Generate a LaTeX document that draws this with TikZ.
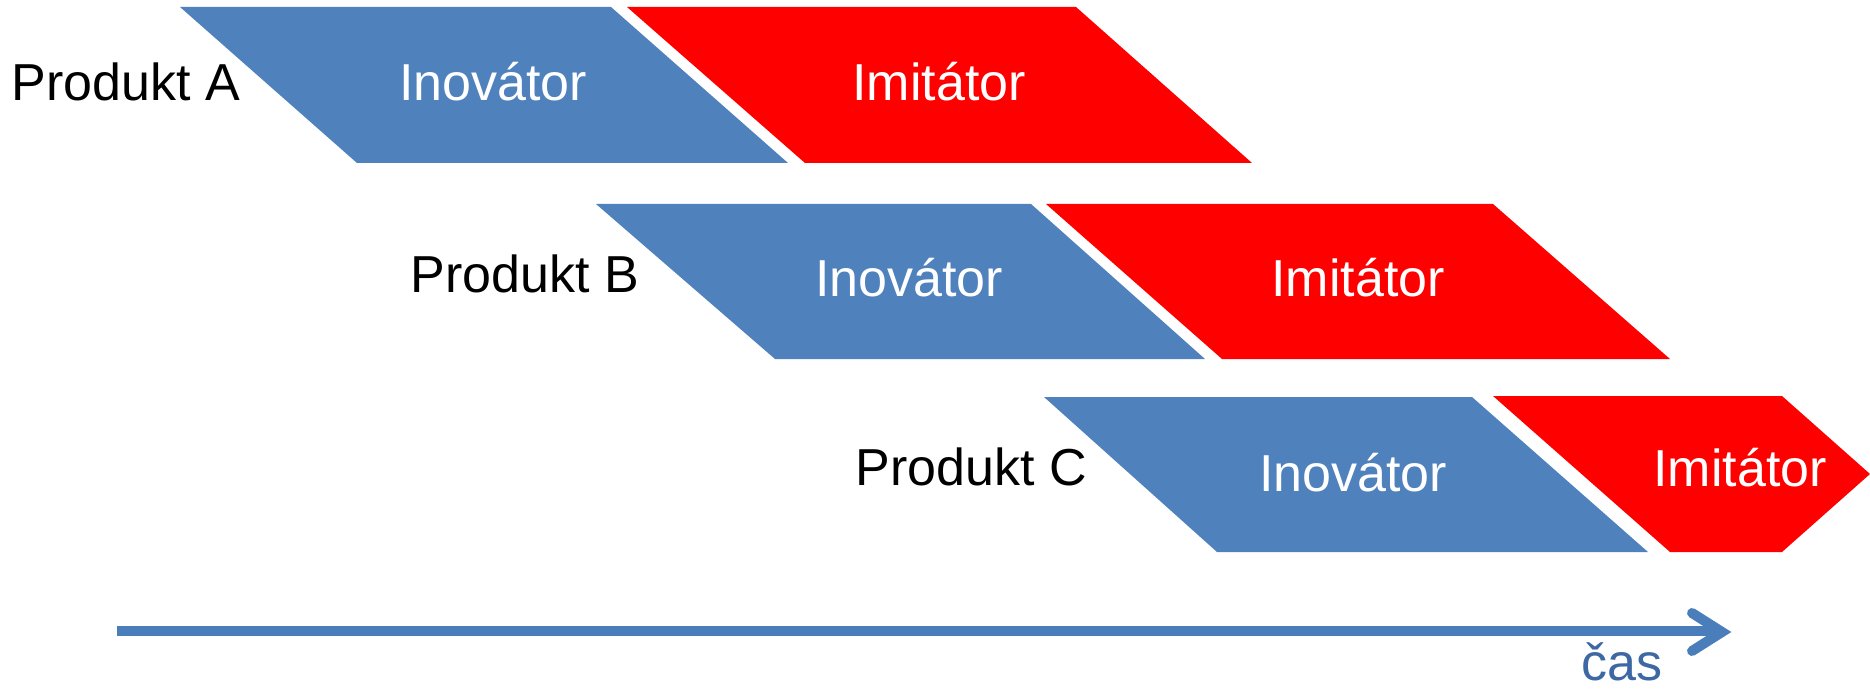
\documentclass[tikz,border=0pt]{standalone}
\usepackage{fontspec}
\setmainfont{Liberation Sans}
\definecolor{innoblue}{HTML}{4F81BD}
\definecolor{imitred}{HTML}{FF0000}
\definecolor{axisblue}{HTML}{4A7EBB}
\definecolor{timeblue}{HTML}{3E68A3}
\tikzset{
  innoshape/.style={fill=innoblue},
  imitshape/.style={fill=imitred},
  lbl/.style={anchor=base, inner sep=0pt, font=\fontsize{52}{60}\selectfont},
  prodlbl/.style={lbl, text=black},
  boxlbl/.style={lbl, text=white},
  axisline/.style={draw=axisblue, line width=10pt},
  axishead/.style={draw=axisblue, line width=10pt, line cap=round, line join=miter}
}
\begin{document}
\begin{tikzpicture}[x=1pt, y=-1pt]
\useasboundingbox (0,0) rectangle (1870,692);
% Row A
\fill[innoshape] (180,7) -- (611,7) -- (788,163) -- (357,163) -- cycle;
\fill[imitshape] (627,7) -- (1076,7) -- (1252,163) -- (805,163) -- cycle;
% Row B
\fill[innoshape] (596,204) -- (1031,204) -- (1205,359) -- (775,359) -- cycle;
\fill[imitshape] (1046,204) -- (1493,204) -- (1670,359) -- (1222,359) -- cycle;
% Row C
\fill[innoshape] (1044,397) -- (1472,397) -- (1648,552) -- (1217,552) -- cycle;
\fill[imitshape] (1493,396) -- (1782,396) -- (1870,474) -- (1782,552) -- (1670,552) -- cycle;
% labels
\node[prodlbl] (pa) at (126,101) {Produkt A};
\node[boxlbl] (ia) at (493,101) {Inovátor};
\node[boxlbl] (ma) at (939,101) {Imitátor};
\node[prodlbl] (pb) at (525,293) {Produkt B};
\node[boxlbl] (ib) at (909,297) {Inovátor};
\node[boxlbl] (mb) at (1358,297) {Imitátor};
\node[prodlbl] (pc) at (971,485) {Produkt C};
\node[boxlbl] (ic) at (1353,491) {Inovátor};
\node[boxlbl] (mc) at (1740,486) {Imitátor};
% time axis
\coordinate (t0) at (117,631);
\coordinate (t1) at (1720,631);
\coordinate (hu) at (1692,613);
\coordinate (ht) at (1722,632);
\coordinate (hl) at (1692,651);
\draw[axisline] (t0) -- (t1);
\draw[axishead] (hu) -- (ht) -- (hl);
\node[lbl, text=timeblue, text depth=0pt] (cas) at (1622,680) {čas};
\end{tikzpicture}
\end{document}
